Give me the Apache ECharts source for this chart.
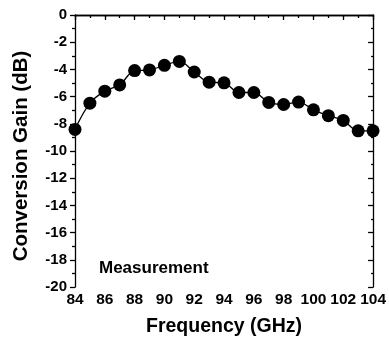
<!DOCTYPE html>
<html>
<head>
<meta charset="utf-8">
<script src="https://cdn.jsdelivr.net/npm/echarts@6/dist/echarts.min.js"></script>
<style>html,body{margin:0;padding:0;background:#fff}#c{width:389px;height:345px}</style>
</head>
<body>
<div id="c"></div>
<script>
var frequency = [84,85,86,87,88,89,90,91,92,93,94,95,96,97,98,99,100,101,102,103,104];
var gain = [-8.41,-6.48,-5.60,-5.14,-4.09,-4.04,-3.70,-3.41,-4.19,-4.94,-4.99,-5.70,-5.70,-6.43,-6.58,-6.40,-6.97,-7.40,-7.75,-8.52,-8.52];
var xTicks = [84,86,88,90,92,94,96,98,100,102,104];
var yTicks = [0,-2,-4,-6,-8,-10,-12,-14,-16,-18,-20];

var font = 'Liberation Sans, Arial, sans-serif';
var chart = echarts.init(document.getElementById('c'), null, {renderer:'canvas'});
var data = frequency.map(function(f,i){return [f, gain[i]];});
var lineStyle = {color:'#000', width:1.3};
chart.setOption({
  animation:false,
  grid:{left:75, right:13, top:15, bottom:58},
  title:{text:'Measurement', left:94, top:255, textStyle:{fontFamily:font, fontWeight:'bold', fontSize:17, color:'#000'}},
  xAxis:[{
    type:'value', min:84, max:104, interval:2, position:'bottom',
    name:'Frequency (GHz)', nameLocation:'middle', nameGap:30,
    nameTextStyle:{fontFamily:font, fontWeight:'bold', fontSize:19.5, color:'#000'},
    axisLine:{lineStyle:lineStyle},
    axisTick:{inside:false, length:5, lineStyle:lineStyle},
    minorTick:{show:true, splitNumber:2, length:3, lineStyle:lineStyle},
    axisLabel:{fontFamily:font, fontWeight:'bold', fontSize:15.5, color:'#000', margin:5,
      formatter:function(v){return xTicks.indexOf(v)>=0 ? String(v) : '';}},
    splitLine:{show:false}
  },{
    type:'value', min:84, max:104, interval:2, position:'top',
    axisLine:{lineStyle:lineStyle},
    axisTick:{inside:true, length:2, lineStyle:lineStyle},
    minorTick:{show:false},
    axisLabel:{show:false}, splitLine:{show:false}
  }],
  yAxis:[{
    type:'value', min:-20, max:0, interval:2, position:'left',
    name:'Conversion Gain (dB)', nameLocation:'middle', nameGap:43,
    nameTextStyle:{fontFamily:font, fontWeight:'bold', fontSize:20.5, color:'#000', padding:[0,0,0,-10]},
    axisLine:{lineStyle:lineStyle},
    axisTick:{inside:false, length:5, lineStyle:lineStyle},
    minorTick:{show:true, splitNumber:2, length:3, lineStyle:lineStyle},
    axisLabel:{fontFamily:font, fontWeight:'bold', fontSize:15, color:'#000', margin:8,
      formatter:function(v){return yTicks.indexOf(v)>=0 ? String(v) : '';}},
    splitLine:{show:false}
  },{
    type:'value', min:-20, max:0, interval:2, position:'right',
    axisLine:{lineStyle:lineStyle},
    axisTick:{inside:true, length:5, lineStyle:lineStyle},
    minorTick:{show:true, splitNumber:2, length:2, lineStyle:lineStyle},
    axisLabel:{show:false}, splitLine:{show:false}
  }],
  series:[{
    type:'line', data:data, xAxisIndex:0, yAxisIndex:0,
    smooth:0.35, symbol:'circle', symbolSize:13,
    itemStyle:{color:'#000'}, lineStyle:{color:'#000', width:1.3}
  }]
});
</script>
</body>
</html>
